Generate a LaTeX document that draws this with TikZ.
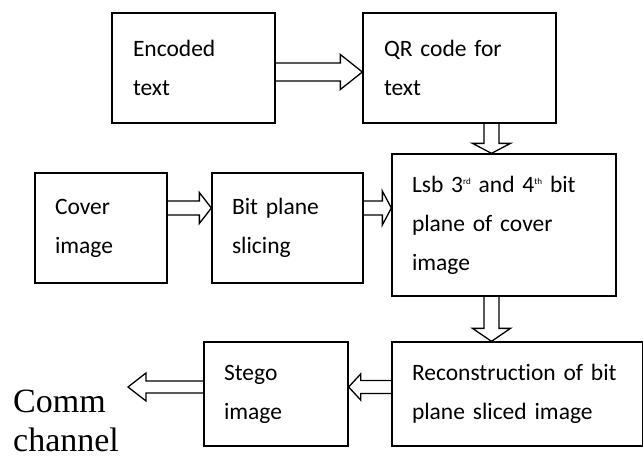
\documentclass[tikz,border=0pt]{standalone}
\usepackage{fontspec}
\setmainfont{Carlito}[Ligatures=CommonOff]
\newfontfamily\commfont{Liberation Serif}
\usetikzlibrary{calc}
\newcommand{\BoxLineWidth}{1.3pt}
\newcommand{\supx}[1]{\raisebox{8pt}{\fontsize{9}{9}\selectfont #1}}

\begin{document}
\begin{tikzpicture}[x=1pt, y=-1pt,
    box/.style={draw, line width=\BoxLineWidth, align=left, inner xsep=0pt,
                font=\fontsize{23.5}{39}\selectfont},
    fatarrow/.style n args={3}{line width=\BoxLineWidth, line join=miter, to path={
        let \p1=(\tikztostart), \p2=(\tikztotarget),
            \n1={atan2(\y2-\y1,\x2-\x1)}, \n2={veclen(\x2-\x1,\y2-\y1)} in
        [shift={(\p1)}, rotate=\n1]
        (0pt,#1) -- (\n2-#3,#1) -- (\n2-#3,#2) -- (\n2,0pt)
        -- (\n2-#3,-#2) -- (\n2-#3,-#1) -- (0pt,-#1)}}]
    \useasboundingbox (0,0) rectangle (643,459);

    % draw boxes
    \node[box, minimum width=163, minimum height=110, text width=121] (enc) at (193.5,68) {Encoded\\text};
    \node[box, minimum width=193, minimum height=110, text width=151] (qr) at (459.5,68) {QR code for\\text};
    \node[box, minimum width=132, minimum height=110, text width=92] (cover) at (101,228) {Cover\\image};
    \node[box, minimum width=151, minimum height=110, text width=111] (bits) at (287.5,228) {Bit plane\\slicing};
    \node[box, minimum width=224, minimum height=142, text width=184] (lsb) at (504,225)
        {Lsb 3\supx{rd} and 4\supx{th} bit\\plane of cover\\image};
    \node[box, minimum width=251, minimum height=104, text width=211] (recon) at (517.5,394)
        {Reconstruction of bit\\plane sliced image};
    \node[box, minimum width=144, minimum height=104, text width=104] (stego) at (276,394) {Stego\\image};
    \node[anchor=west, inner sep=0pt, align=left, font=\commfont\fontsize{34}{39}\selectfont]
        (comm) at (13,421) {Comm\\channel};
    \coordinate (commtip) at (128,387);

    % draw arrows
    \draw[fatarrow={9pt}{17.5pt}{22pt}] ([yshift=-4pt]enc.east) to ([yshift=-4pt]qr.west);
    \draw[fatarrow={7.5pt}{19pt}{10pt}] ([xshift=32pt]qr.south) to ([xshift=-12.5pt]lsb.north);
    \draw[fatarrow={7pt}{15.5pt}{12pt}] ([yshift=20pt]cover.east) to ([yshift=20pt]bits.west);
    \draw[fatarrow={7pt}{17pt}{9pt}] ([yshift=20pt]bits.east) to ([yshift=17pt]lsb.west);
    \draw[fatarrow={7.5pt}{19pt}{13pt}] ([xshift=-12.5pt]lsb.south) to ([xshift=-26pt]recon.north);
    \draw[fatarrow={6.5pt}{13pt}{12pt}] (recon.west |- commtip) to (stego.east |- commtip);
    \draw[fatarrow={6pt}{14pt}{18pt}] (stego.west |- commtip) to (commtip);
\end{tikzpicture}
\end{document}
